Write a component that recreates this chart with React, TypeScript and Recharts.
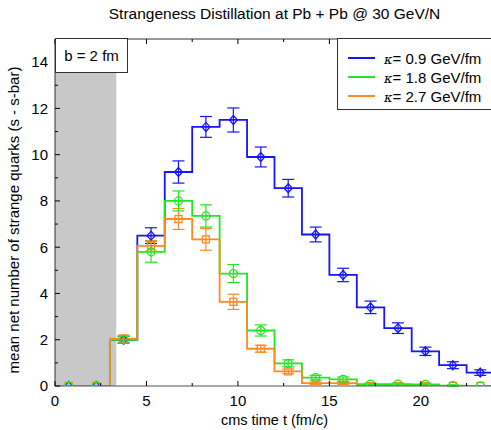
import React from 'react';
import { ComposedChart, Line, Scatter, ErrorBar, XAxis, YAxis, ReferenceArea, Legend, Label } from 'recharts';

// time bins (fm/c), 1.5 wide
const binCenters = [0.75, 2.25, 3.75, 5.25, 6.75, 8.25, 9.75, 11.25, 12.75, 14.25, 15.75, 17.25, 18.75, 20.25, 21.75, 23.25];
const binWidth = 1.5;

const kappa09Values = [0, 0, 2.0, 6.5, 9.25, 11.2, 11.5, 9.9, 8.55, 6.55, 4.8, 3.4, 2.5, 1.5, 0.9, 0.58];
const kappa09Errors = [0, 0, 0.15, 0.34, 0.48, 0.45, 0.52, 0.43, 0.38, 0.32, 0.29, 0.27, 0.23, 0.18, 0.15, 0.12];

const kappa18Values = [0, 0, 2.0, 5.8, 8.0, 7.35, 4.86, 2.4, 0.98, 0.36, 0.29, 0.08, 0.08, 0.07, 0.02, 0];
const kappa18Errors = [0, 0, 0.15, 0.45, 0.43, 0.48, 0.39, 0.24, 0.15, 0.1, 0.1, 0.05, 0.05, 0.05, 0.03, 0];

const kappa27Values = [0, 0, 2.05, 6.06, 7.22, 6.34, 3.64, 1.61, 0.63, 0.12, 0.12, 0, 0, 0, 0, 0];
const kappa27Errors = [0, 0, 0.15, 0.23, 0.45, 0.47, 0.33, 0.15, 0.1, 0.05, 0.05, 0, 0, 0, 0, 0];

const xTicks = [0, 2.5, 5, 7.5, 10, 12.5, 15, 17.5, 20, 22.5];
const yTicks = [0, 1, 2, 3, 4, 5, 6, 7, 8, 9, 10, 11, 12, 13, 14, 15];

const FONT = '"Liberation Sans", Arial, Helvetica, sans-serif';

const stepRows = (values: number[]) => [
  ...values.map((v, i) => ({ t: binCenters[i] - binWidth / 2, y: v })),
  { t: binCenters[binCenters.length - 1] + binWidth / 2, y: values[values.length - 1] },
];
const pointRows = (values: number[], errors: number[]) =>
  values.map((v, i) => ({ t: binCenters[i], y: v, err: errors[i] }));

const series = [
  { name: '0.9 GeV/fm', color: '#1515ff', marker: 'diamond', values: kappa09Values, errors: kappa09Errors },
  { name: '1.8 GeV/fm', color: '#22e622', marker: 'circle', values: kappa18Values, errors: kappa18Errors },
  { name: '2.7 GeV/fm', color: '#ff8a20', marker: 'square', values: kappa27Values, errors: kappa27Errors },
];

const makeMarker = (kind: string, color: string) => (props: any) => {
  const { cx, cy } = props;
  if (cx == null || cy == null) return <g />;
  if (kind === 'diamond') {
    return <polygon points={`${cx},${cy - 4.5} ${cx + 4},${cy} ${cx},${cy + 4.5} ${cx - 4},${cy}`} fill="none" stroke={color} strokeWidth={1.3} />;
  }
  if (kind === 'circle') {
    return <circle cx={cx} cy={cy} r={4} fill="none" stroke={color} strokeWidth={1.3} />;
  }
  return <rect x={cx - 3.5} y={cy - 3.5} width={7} height={7} fill="none" stroke={color} strokeWidth={1.3} />;
};

const BottomTick = ({ x, y, payload }: any) => {
  const major = payload.value % 5 === 0;
  return (
    <g>
      <line x1={x} y1={y} x2={x} y2={y - (major ? 5 : 3)} stroke="#000" />
      {major && (
        <text x={x} y={y + 20} textAnchor="middle" fontSize={15} fontFamily={FONT} fill="#000">
          {payload.value}
        </text>
      )}
    </g>
  );
};

const TopTick = ({ x, y, payload }: any) => {
  const major = payload.value % 5 === 0;
  return <line x1={x} y1={y} x2={x} y2={y + (major ? 5 : 3)} stroke="#000" />;
};

const LeftTick = ({ x, y, payload }: any) => {
  const major = payload.value % 2 === 0;
  return (
    <g>
      <line x1={x} y1={y} x2={x + (major ? 5 : 3)} y2={y} stroke="#000" />
      {major && payload.value < 15 && (
        <text x={x - 7} y={y + 5.3} textAnchor="end" fontSize={15} fontFamily={FONT} fill="#000">
          {payload.value}
        </text>
      )}
    </g>
  );
};

const RightTick = ({ x, y, payload }: any) => {
  const major = payload.value % 2 === 0;
  return <line x1={x} y1={y} x2={x - (major ? 5 : 3)} y2={y} stroke="#000" />;
};

const renderLegend = () => (
  <div
    style={{
      width: 170,
      height: 72,
      boxSizing: 'border-box',
      border: '1px solid #333',
      background: '#fff',
      fontFamily: FONT,
      fontSize: 15,
      position: 'relative',
    }}
  >
    {series.map((s, i) => (
      <div key={s.name} style={{ position: 'absolute', left: 0, top: 10 + i * 19, height: 18, display: 'flex', alignItems: 'center' }}>
        <div style={{ marginLeft: 10, width: 27, height: 2, background: s.color }} />
        <span style={{ marginLeft: 9, whiteSpace: 'nowrap', color: '#000' }}>
          <i style={{ fontFamily: '"DejaVu Serif", serif', fontSize: 13 }}>κ</i>= {s.name}
        </span>
      </div>
    ))}
  </div>
);

const TitleLabel = ({ viewBox }: any) => (
  <text x={viewBox.x + viewBox.width / 2} y={viewBox.y - 19.5} textAnchor="middle" fontSize={15.5} fontFamily={FONT} fill="#000">
    Strangeness Distillation at Pb + Pb @ 30 GeV/N
  </text>
);

const XLabel = ({ viewBox }: any) => (
  <text x={viewBox.x + viewBox.width / 2} y={viewBox.y + 39} textAnchor="middle" fontSize={14.5} fontFamily={FONT} fill="#000">
    cms time t (fm/c)
  </text>
);

const YLabel = ({ viewBox }: any) => {
  const cx = viewBox.x - 2;
  const cy = viewBox.y + viewBox.height / 2 + 7.5;
  return (
    <text x={cx} y={cy} transform={`rotate(-90, ${cx}, ${cy})`} textAnchor="middle" dominantBaseline="central" fontSize={15} fontFamily={FONT} fill="#000">
      mean net number of strange quarks (s - s-bar)
    </text>
  );
};

export default function App() {
  return (
    <div style={{ position: 'fixed', left: 0, top: 0, width: 491, height: 430, overflow: 'hidden', background: '#fff' }}>
      <ComposedChart width={505} height={430} margin={{ top: 38, right: 10, bottom: 0, left: 15 }}>
        <XAxis
          xAxisId={0}
          type="number"
          dataKey="t"
          domain={[0, 24]}
          ticks={xTicks}
          interval={0}
          allowDataOverflow
          height={44}
          tickSize={0}
          tickMargin={0}
          tickLine={false}
          tick={<BottomTick />}
          axisLine={{ stroke: '#555', strokeWidth: 1.2 }}
        >
          <Label content={<XLabel />} />
        </XAxis>
        <XAxis
          xAxisId="top"
          orientation="top"
          type="number"
          dataKey="t"
          domain={[0, 24]}
          ticks={xTicks}
          interval={0}
          allowDataOverflow
          height={1}
          tickSize={0}
          tickMargin={0}
          tickLine={false}
          tick={<TopTick />}
          axisLine={{ stroke: '#333' }}
        >
          <Label content={<TitleLabel />} />
        </XAxis>
        <YAxis
          yAxisId={0}
          type="number"
          domain={[0, 15]}
          ticks={yTicks}
          interval={0}
          allowDataOverflow
          width={40}
          tickSize={0}
          tickMargin={0}
          tickLine={false}
          tick={<LeftTick />}
          axisLine={{ stroke: '#333' }}
        >
          <Label content={<YLabel />} />
        </YAxis>
        <YAxis
          yAxisId="right"
          orientation="right"
          type="number"
          domain={[0, 15]}
          ticks={yTicks}
          interval={0}
          width={1}
          tickSize={0}
          tickMargin={0}
          tickLine={false}
          tick={<RightTick />}
          axisLine={{ stroke: '#333' }}
        />
        <ReferenceArea x1={0} x2={3.35} y1={0} y2={15} fill="#c8c8c8" fillOpacity={1} stroke="none" />
        {series.map((s) => (
          <Line
            key={`line-${s.name}`}
            data={stepRows(s.values)}
            dataKey="y"
            name={s.name}
            type="stepAfter"
            stroke={s.color}
            strokeWidth={1.8}
            dot={false}
            isAnimationActive={false}
          />
        ))}
        {[series[0], series[2], series[1]].map((s) => (
          <Scatter
            key={`pts-${s.name}`}
            data={pointRows(s.values, s.errors)}
            dataKey="y"
            legendType="none"
            shape={makeMarker(s.marker, s.color)}
            isAnimationActive={false}
          >
            <ErrorBar dataKey="err" direction="y" width={6} stroke={s.color} strokeWidth={1.2} isAnimationActive={false} />
          </Scatter>
        ))}
        <Legend
          layout="horizontal"
          verticalAlign="middle"
          align="center"
          content={renderLegend}
          wrapperStyle={{ top: 38, left: 337, width: 170, height: 72 }}
        />
      </ComposedChart>
      <div
        style={{
          position: 'absolute',
          left: 55,
          top: 37.5,
          width: 73,
          height: 35,
          boxSizing: 'border-box',
          border: '1px solid #333',
          background: '#fff',
          fontFamily: FONT,
          fontSize: 15,
          display: 'flex',
          alignItems: 'center',
          justifyContent: 'center',
        }}
      >
        b = 2 fm
      </div>
    </div>
  );
}
